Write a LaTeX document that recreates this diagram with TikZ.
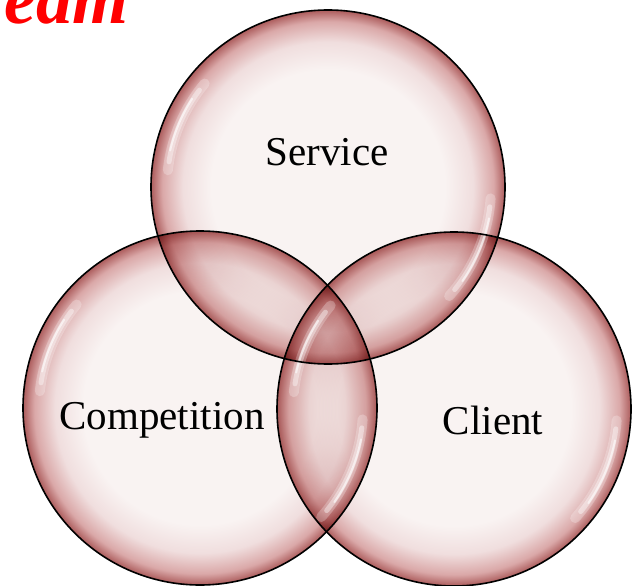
\documentclass[tikz,border=0pt]{standalone}
\usepackage{fontspec}
\setmainfont{Liberation Serif}
\definecolor{bin}{RGB}{249,243,242}
\definecolor{bmid}{RGB}{240,222,222}
\definecolor{bdeep}{RGB}{218,168,168}
\definecolor{brim}{RGB}{172,92,92}
\definecolor{titlered}{RGB}{255,0,0}
\pgfdeclareradialshading{bubbleshade}{\pgfpoint{0bp}{0bp}}{color(0bp)=(bin); color(16.5bp)=(bin); color(20.5bp)=(bmid); color(23.4bp)=(bdeep); color(25bp)=(brim); color(50bp)=(brim)}
\tikzset{
  bubble/.style={circle, minimum size=354pt, inner sep=0pt, shading=bubbleshade},
  rimline/.style={circle, minimum size=354pt, inner sep=0pt, draw=black, line width=1.6pt},
  label/.style={font=\fontsize{41}{48}\selectfont, text=black, inner sep=0pt},
  glowsoft/.style={draw=white, line width=10pt, line cap=round, opacity=0.25},
  glowwide/.style={draw=white, line width=5pt, line cap=round, opacity=0.4},
  glowthin/.style={draw=white, line width=2pt, line cap=round, opacity=0.6},
  titletext/.style={font=\fontsize{72}{80}\selectfont\bfseries\itshape, text=titlered, inner sep=0pt}
}
\begin{document}
\begin{tikzpicture}[x=1pt,y=1pt]
\useasboundingbox (0,0) rectangle (632,-586);
\clip (0,0) rectangle (632,-586);
\node[titletext, anchor=base east] (title) at (129,-24) {eam};
\begin{scope}[blend group=multiply]
  \node[bubble] (S) at (328,-187) {};
  \node[bubble] (C) at (200,-408) {};
  \node[bubble] (K) at (454,-409) {};
\end{scope}
% highlights
\foreach \c in {S,C,K}{
  \draw[glowsoft] (\c.center) ++(140:161) arc[start angle=140, end angle=174, radius=161];
  \draw[glowwide] (\c.center) ++(143:161) arc[start angle=143, end angle=171, radius=161];
  \draw[glowthin] (\c.center) ++(147:162) arc[start angle=147, end angle=167, radius=162];
  \draw[glowsoft] (\c.center) ++(-4:163) arc[start angle=-4, end angle=-42, radius=163];
  \draw[glowwide] (\c.center) ++(-7:163) arc[start angle=-7, end angle=-39, radius=163];
  \draw[glowthin] (\c.center) ++(-11:164) arc[start angle=-11, end angle=-35, radius=164];
}
\node[rimline] at (S) {};
\node[rimline] at (C) {};
\node[rimline] at (K) {};
\node[label] (ls) at (327,-152) {Service};
\node[label] (lc) at (162,-420) {Competition};
\node[label] (lk) at (493,-420) {Client};
\end{tikzpicture}
\end{document}
